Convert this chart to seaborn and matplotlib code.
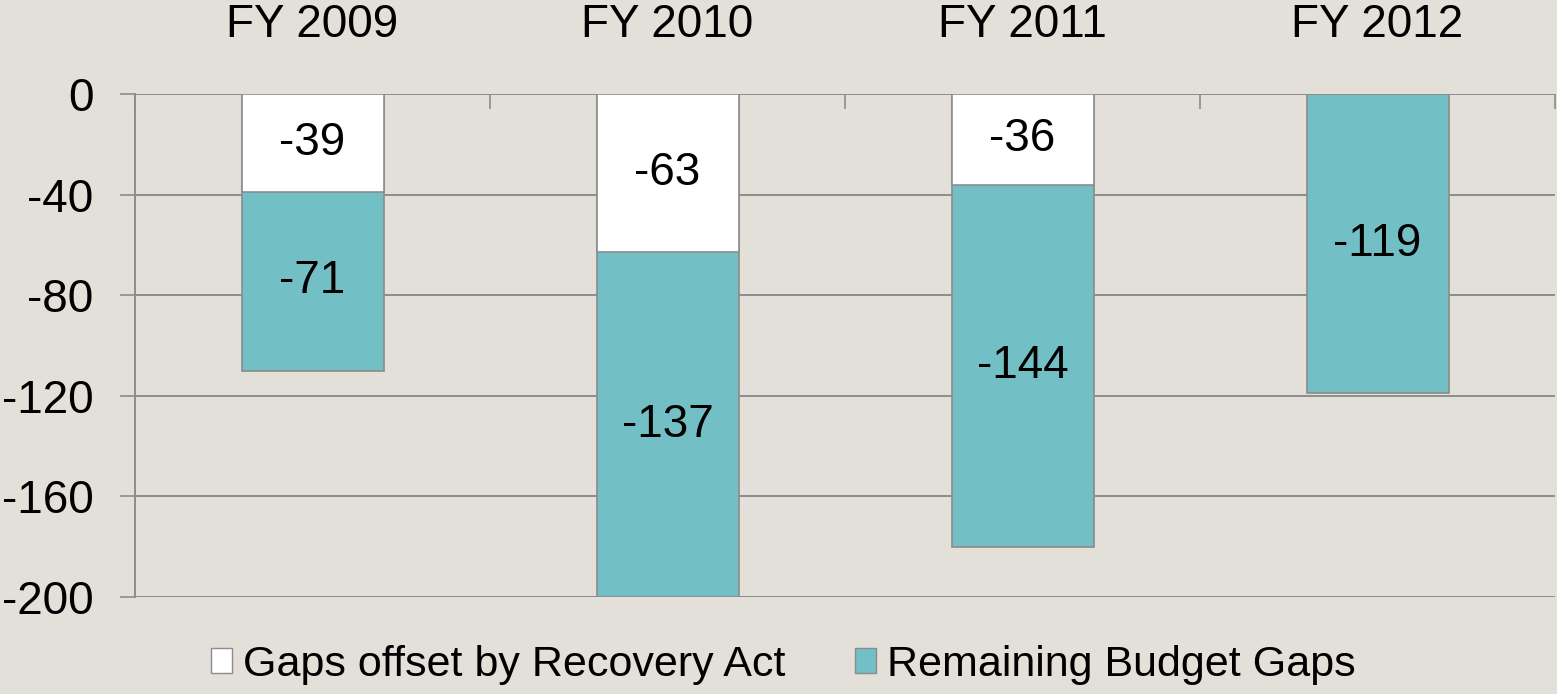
import matplotlib
matplotlib.use("Agg")
import matplotlib.pyplot as plt
from matplotlib.patches import Patch
from matplotlib.ticker import FixedLocator
import seaborn as sns
import pandas as pd
import numpy as np

# ---- data ----
categories = ["FY 2009", "FY 2010", "FY 2011", "FY 2012"]
recovery_offset = [-39, -63, -36, 0]
remaining_gaps = [-71, -137, -144, -119]
series_names = ["Gaps offset by Recovery Act", "Remaining Budget Gaps"]
y_ticks = [0, -40, -80, -120, -160, -200]

# ---- style ----
BG = "#E3DFD9"
TEAL = "#72BFC5"
WHITE = "#FFFFFF"
EDGE = "#8C8C8C"
GRID = "#8C8C8C"
FS = 33
LFS = 31

sns.set_theme(style="white")
plt.rcParams["font.family"] = ["Liberation Sans", "DejaVu Sans"]
plt.rcParams["text.color"] = "black"

totals = [o + r for o, r in zip(recovery_offset, remaining_gaps)]
df = pd.DataFrame({
    "category": categories,
    "offset": recovery_offset,
    "remaining": remaining_gaps,
    "total": totals,
})

fig = plt.figure(figsize=(15.57, 6.94), dpi=100)
fig.patch.set_facecolor(BG)
ax = fig.add_axes([135 / 1557, 1 - 597 / 694, 1420 / 1557, 503 / 694])
ax.set_facecolor(BG)

# stacked look: total (teal) drawn first, offset (white) on top
sns.barplot(data=df, x="category", y="total", color=TEAL, saturation=1,
            width=0.4, edgecolor=EDGE, linewidth=1.2, ax=ax, order=categories, zorder=3)
sns.barplot(data=df, x="category", y="offset", color=WHITE, saturation=1,
            width=0.4, edgecolor=EDGE, linewidth=1.2, ax=ax, order=categories, zorder=3)

ymin, ymax = -200, 0
ax.set_ylim(ymin, ymax)
ax.set_xlim(-0.5, len(categories) - 0.5)

# value labels centred in visible segments
for i, (o, r, t) in enumerate(zip(recovery_offset, remaining_gaps, totals)):
    if o != 0:
        ax.text(i, o / 2, f"{o}", ha="center", va="center", fontsize=FS,
                color="black", zorder=5)
    lo = max(t, ymin)
    ax.text(i, (o + lo) / 2, f"{r}", ha="center", va="center", fontsize=FS,
            color="black", zorder=5)

# y axis
ax.set_yticks(y_ticks)
ax.set_yticklabels([str(v) for v in y_ticks])
ax.tick_params(axis="y", which="major", direction="out", length=11, width=1.2,
               color=GRID, labelsize=FS, labelcolor="black", pad=19, left=True)
ax.yaxis.grid(True, color=GRID, linewidth=1.4, zorder=0)
ax.set_axisbelow(True)

# x axis on top
ax.xaxis.tick_top()
ax.xaxis.set_label_position("top")
ax.set_xlabel("")
ax.set_ylabel("")
ax.xaxis.set_minor_locator(FixedLocator(np.arange(-0.5, len(categories), 1.0)))
ax.tick_params(axis="x", which="major", length=0, labelsize=FS, labelcolor="black", pad=34)
ax.tick_params(axis="x", which="minor", direction="in", length=11, width=1.2,
               color=GRID, top=True, bottom=False)

for s in ["top", "right", "bottom"]:
    ax.spines[s].set_visible(False)
ax.spines["left"].set_color(GRID)
ax.spines["left"].set_linewidth(1.4)

# legend
handles = [Patch(facecolor=WHITE, edgecolor=EDGE, linewidth=1.0, label=series_names[0]),
           Patch(facecolor=TEAL, edgecolor=EDGE, linewidth=1.0, label=series_names[1])]
leg = fig.legend(handles=handles, loc="center", bbox_to_anchor=(0.503, 0.042), ncol=2,
                 frameon=False, fontsize=LFS, handlelength=0.5, handleheight=0.5,
                 handletextpad=0.25, columnspacing=1.6)
for t in leg.get_texts():
    t.set_color("black")

fig.savefig("out.png", dpi=100, facecolor=BG)
